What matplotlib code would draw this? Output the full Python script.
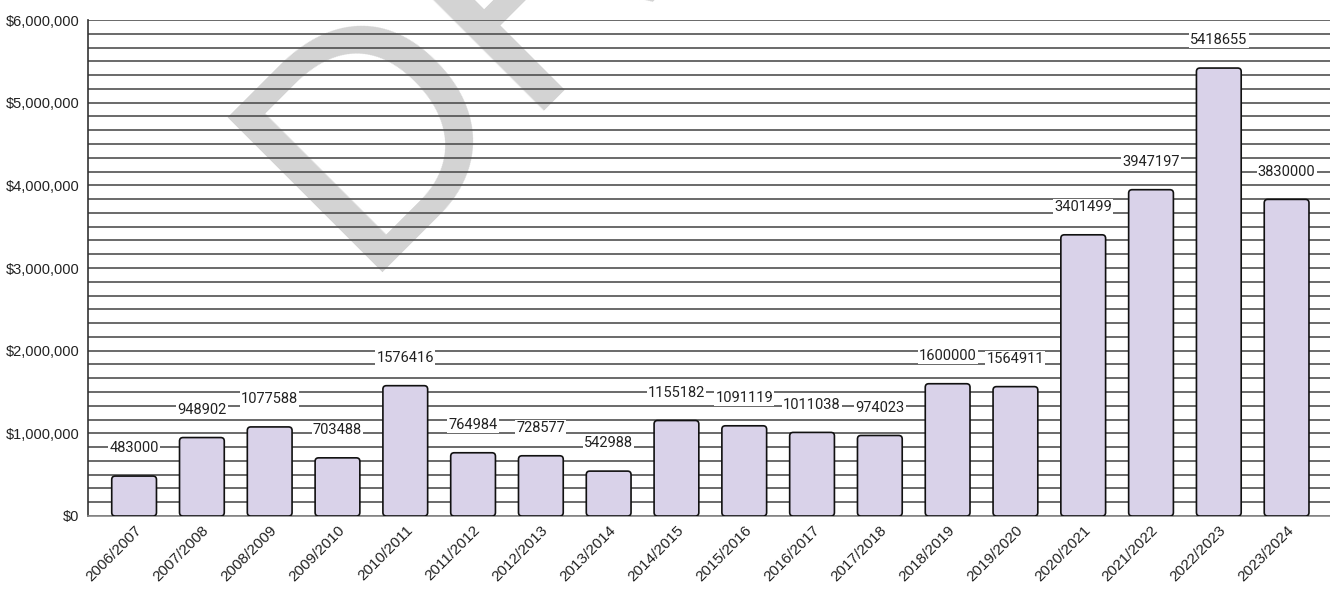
import matplotlib
matplotlib.use("Agg")
import matplotlib.pyplot as plt
from matplotlib.patches import FancyBboxPatch
from matplotlib.ticker import FuncFormatter, MultipleLocator
import numpy as np

categories = ["2006/2007", "2007/2008", "2008/2009", "2009/2010", "2010/2011",
              "2011/2012", "2012/2013", "2013/2014", "2014/2015", "2015/2016",
              "2016/2017", "2017/2018", "2018/2019", "2019/2020", "2020/2021",
              "2021/2022", "2022/2023", "2023/2024"]
values = [483000, 948902, 1077588, 703488, 1576416, 764984, 728577, 542988,
          1155182, 1091119, 1011038, 974023, 1600000, 1564911, 3401499,
          3947197, 5418655, 3830000]
y_ticks = [0, 1000000, 2000000, 3000000, 4000000, 5000000, 6000000]

W, H, DPI = 1330, 598, 100
fig = plt.figure(figsize=(W / DPI, H / DPI), dpi=DPI)
ax = fig.add_axes([88 / W, 1 - 516 / H, 1 - 88 / W, (516 - 20) / H])
ax.set_facecolor("white")

x = np.arange(len(categories))
bar_w = 0.66
bars = ax.bar(x, values, width=bar_w, color="#d9d2e9", edgecolor="#111111",
              linewidth=1.2, zorder=3)
ax.set_xlim(-0.68, len(categories) - 1 + 0.64)
ax.set_ylim(0, 6000000)
px_x = (W - 88) / (ax.get_xlim()[1] - ax.get_xlim()[0])
px_y = (516 - 20) / 6000000
r = 3.5 / px_x
aspect = (3.5 / px_y) / r
for b in bars:
    b.set_visible(False)
    p = FancyBboxPatch((b.get_x(), b.get_y()), b.get_width(), b.get_height(),
                       boxstyle=f"round,pad=0,rounding_size={r}",
                       mutation_aspect=aspect,
                       facecolor="#d9d2e9", edgecolor="#111111",
                       linewidth=1.2, zorder=3)
    ax.add_patch(p)

ax.set_yticks(y_ticks)
ax.yaxis.set_minor_locator(MultipleLocator(1000000 / 6))
ax.yaxis.set_major_formatter(FuncFormatter(lambda v, p: f"${v:,.0f}"))
ax.grid(True, axis="y", which="both", color="#505050", linewidth=1.2, zorder=1)
ax.set_axisbelow(True)
ax.tick_params(axis="y", which="both", length=0, pad=6, labelsize=10.5,
               labelcolor="#222222")
ax.tick_params(axis="x", length=0, pad=5, labelsize=11, labelcolor="#222222")
for lab in ax.get_yticklabels():
    lab.set_fontfamily("Liberation Sans")
ax.set_xticks(x)
ax.set_xticklabels(categories, rotation=45, ha="right", rotation_mode="anchor",
                   fontfamily="Liberation Sans")

for s in ["top", "right"]:
    ax.spines[s].set_visible(False)
ax.spines["left"].set_color("#333333")
ax.spines["left"].set_linewidth(1.2)
ax.spines["bottom"].set_color("#888888")
ax.spines["bottom"].set_linewidth(1.2)

for xi, v in zip(x, values):
    ax.annotate(str(v), (xi, v), xytext=(0, 20), textcoords="offset points",
                ha="center", va="center", fontsize=10.5, fontfamily="Roboto",
                color="#222222", zorder=4,
                bbox=dict(boxstyle="square,pad=0.08", facecolor="white",
                          edgecolor="none"))

# watermark
fig.text(357 / W, 1 - 272 / H, "DRAFT", rotation=45, rotation_mode="anchor",
         ha="left", va="baseline", fontsize=228, fontfamily="Liberation Sans",
         color="#d3d3d3", zorder=0.5)
ax.set_zorder(1)
ax.patch.set_alpha(0)

fig.savefig("out.png", dpi=DPI, facecolor="white")
